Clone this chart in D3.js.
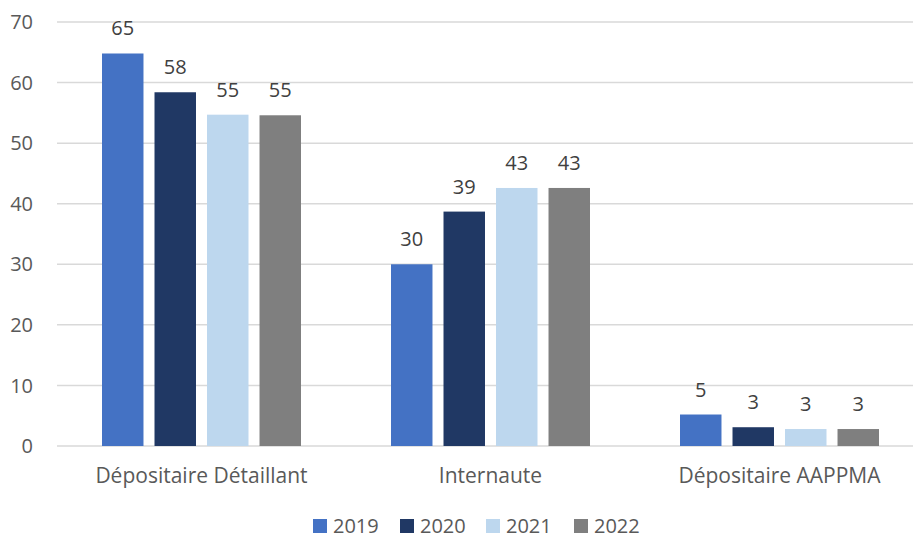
<!DOCTYPE html>
<html>
<head>
<meta charset="utf-8">
<script src="https://cdn.jsdelivr.net/npm/d3@7"></script>
<style>
  body { margin: 0; background: #fff; overflow: hidden; }
  svg text { font-family: "Open Sans", "Liberation Sans", sans-serif; }
</style>
</head>
<body>
<div id="chart"></div>
<script>
// chart data
const categories = ["Dépositaire Détaillant", "Internaute", "Dépositaire AAPPMA"];
const years = ["2019", "2020", "2021", "2022"];
const values2019 = [64.8, 30.0, 5.2];
const values2020 = [58.4, 38.7, 3.1];
const values2021 = [54.7, 42.6, 2.8];
const values2022 = [54.6, 42.6, 2.8];
const labels2019 = ["65", "30", "5"];
const labels2020 = ["58", "39", "3"];
const labels2021 = ["55", "43", "3"];
const labels2022 = ["55", "43", "3"];
const yTicks = [0, 10, 20, 30, 40, 50, 60, 70];

const colors = ["#4472C4", "#203864", "#BDD7EE", "#7F7F7F"];
const series = [values2019, values2020, values2021, values2022];
const seriesLabels = [labels2019, labels2020, labels2021, labels2022];

const width = 913, height = 539;

const svg = d3.select("#chart").append("svg")
    .attr("width", width)
    .attr("height", height);

const x0 = d3.scaleBand().domain(categories).range([57, 924]).padding(0);
const x1 = d3.scaleBand().domain(years).range([45, 244]).paddingInner(0.21).paddingOuter(0);
const y = d3.scaleLinear().domain([0, 70]).range([446, 22]);

// gridlines
svg.append("g")
    .selectAll("line")
    .data(yTicks)
    .enter()
    .append("line")
    .attr("x1", 57)
    .attr("x2", width)
    .attr("y1", d => y(d))
    .attr("y2", d => y(d))
    .attr("stroke", "#d9d9d9")
    .attr("stroke-width", 1.5);

// y axis labels
svg.append("g")
    .selectAll("text")
    .data(yTicks)
    .enter()
    .append("text")
    .attr("x", 33)
    .attr("y", d => y(d))
    .attr("dy", "0.36em")
    .attr("text-anchor", "end")
    .attr("fill", "#595959")
    .style("font-size", "20px")
    .text(d => d);

// bars, one group per category
const groups = svg.selectAll("g.cat")
    .data(categories)
    .enter()
    .append("g")
    .attr("class", "cat")
    .attr("transform", d => `translate(${x0(d)},0)`);

groups.each(function(cat, ci) {
    const g = d3.select(this);
    years.forEach((yr, si) => {
        const v = series[si][ci];
        g.append("rect")
            .attr("x", x1(yr))
            .attr("y", y(v))
            .attr("width", x1.bandwidth())
            .attr("height", y(0) - y(v))
            .attr("fill", colors[si]);
        g.append("text")
            .attr("x", x1(yr) + x1.bandwidth() / 2)
            .attr("y", y(v) - 18)
            .attr("text-anchor", "middle")
            .attr("fill", "#404040")
            .style("font-size", "20px")
            .text(seriesLabels[si][ci]);
    });
    g.append("text")
        .attr("x", x0.bandwidth() / 2)
        .attr("y", 483)
        .attr("text-anchor", "middle")
        .attr("fill", "#595959")
        .style("font-size", "21px")
        .text(cat);
});

// legend
const legend = svg.append("g").attr("transform", "translate(313,519)");
years.forEach((yr, i) => {
    const item = legend.append("g").attr("transform", `translate(${[0, 87, 173, 261][i]},0)`);
    item.append("rect")
        .attr("width", 14)
        .attr("height", 14)
        .attr("fill", colors[i]);
    item.append("text")
        .attr("x", 20)
        .attr("y", 14)
        .attr("fill", "#595959")
        .style("font-size", "20px")
        .text(yr);
});
</script>
</body>
</html>
